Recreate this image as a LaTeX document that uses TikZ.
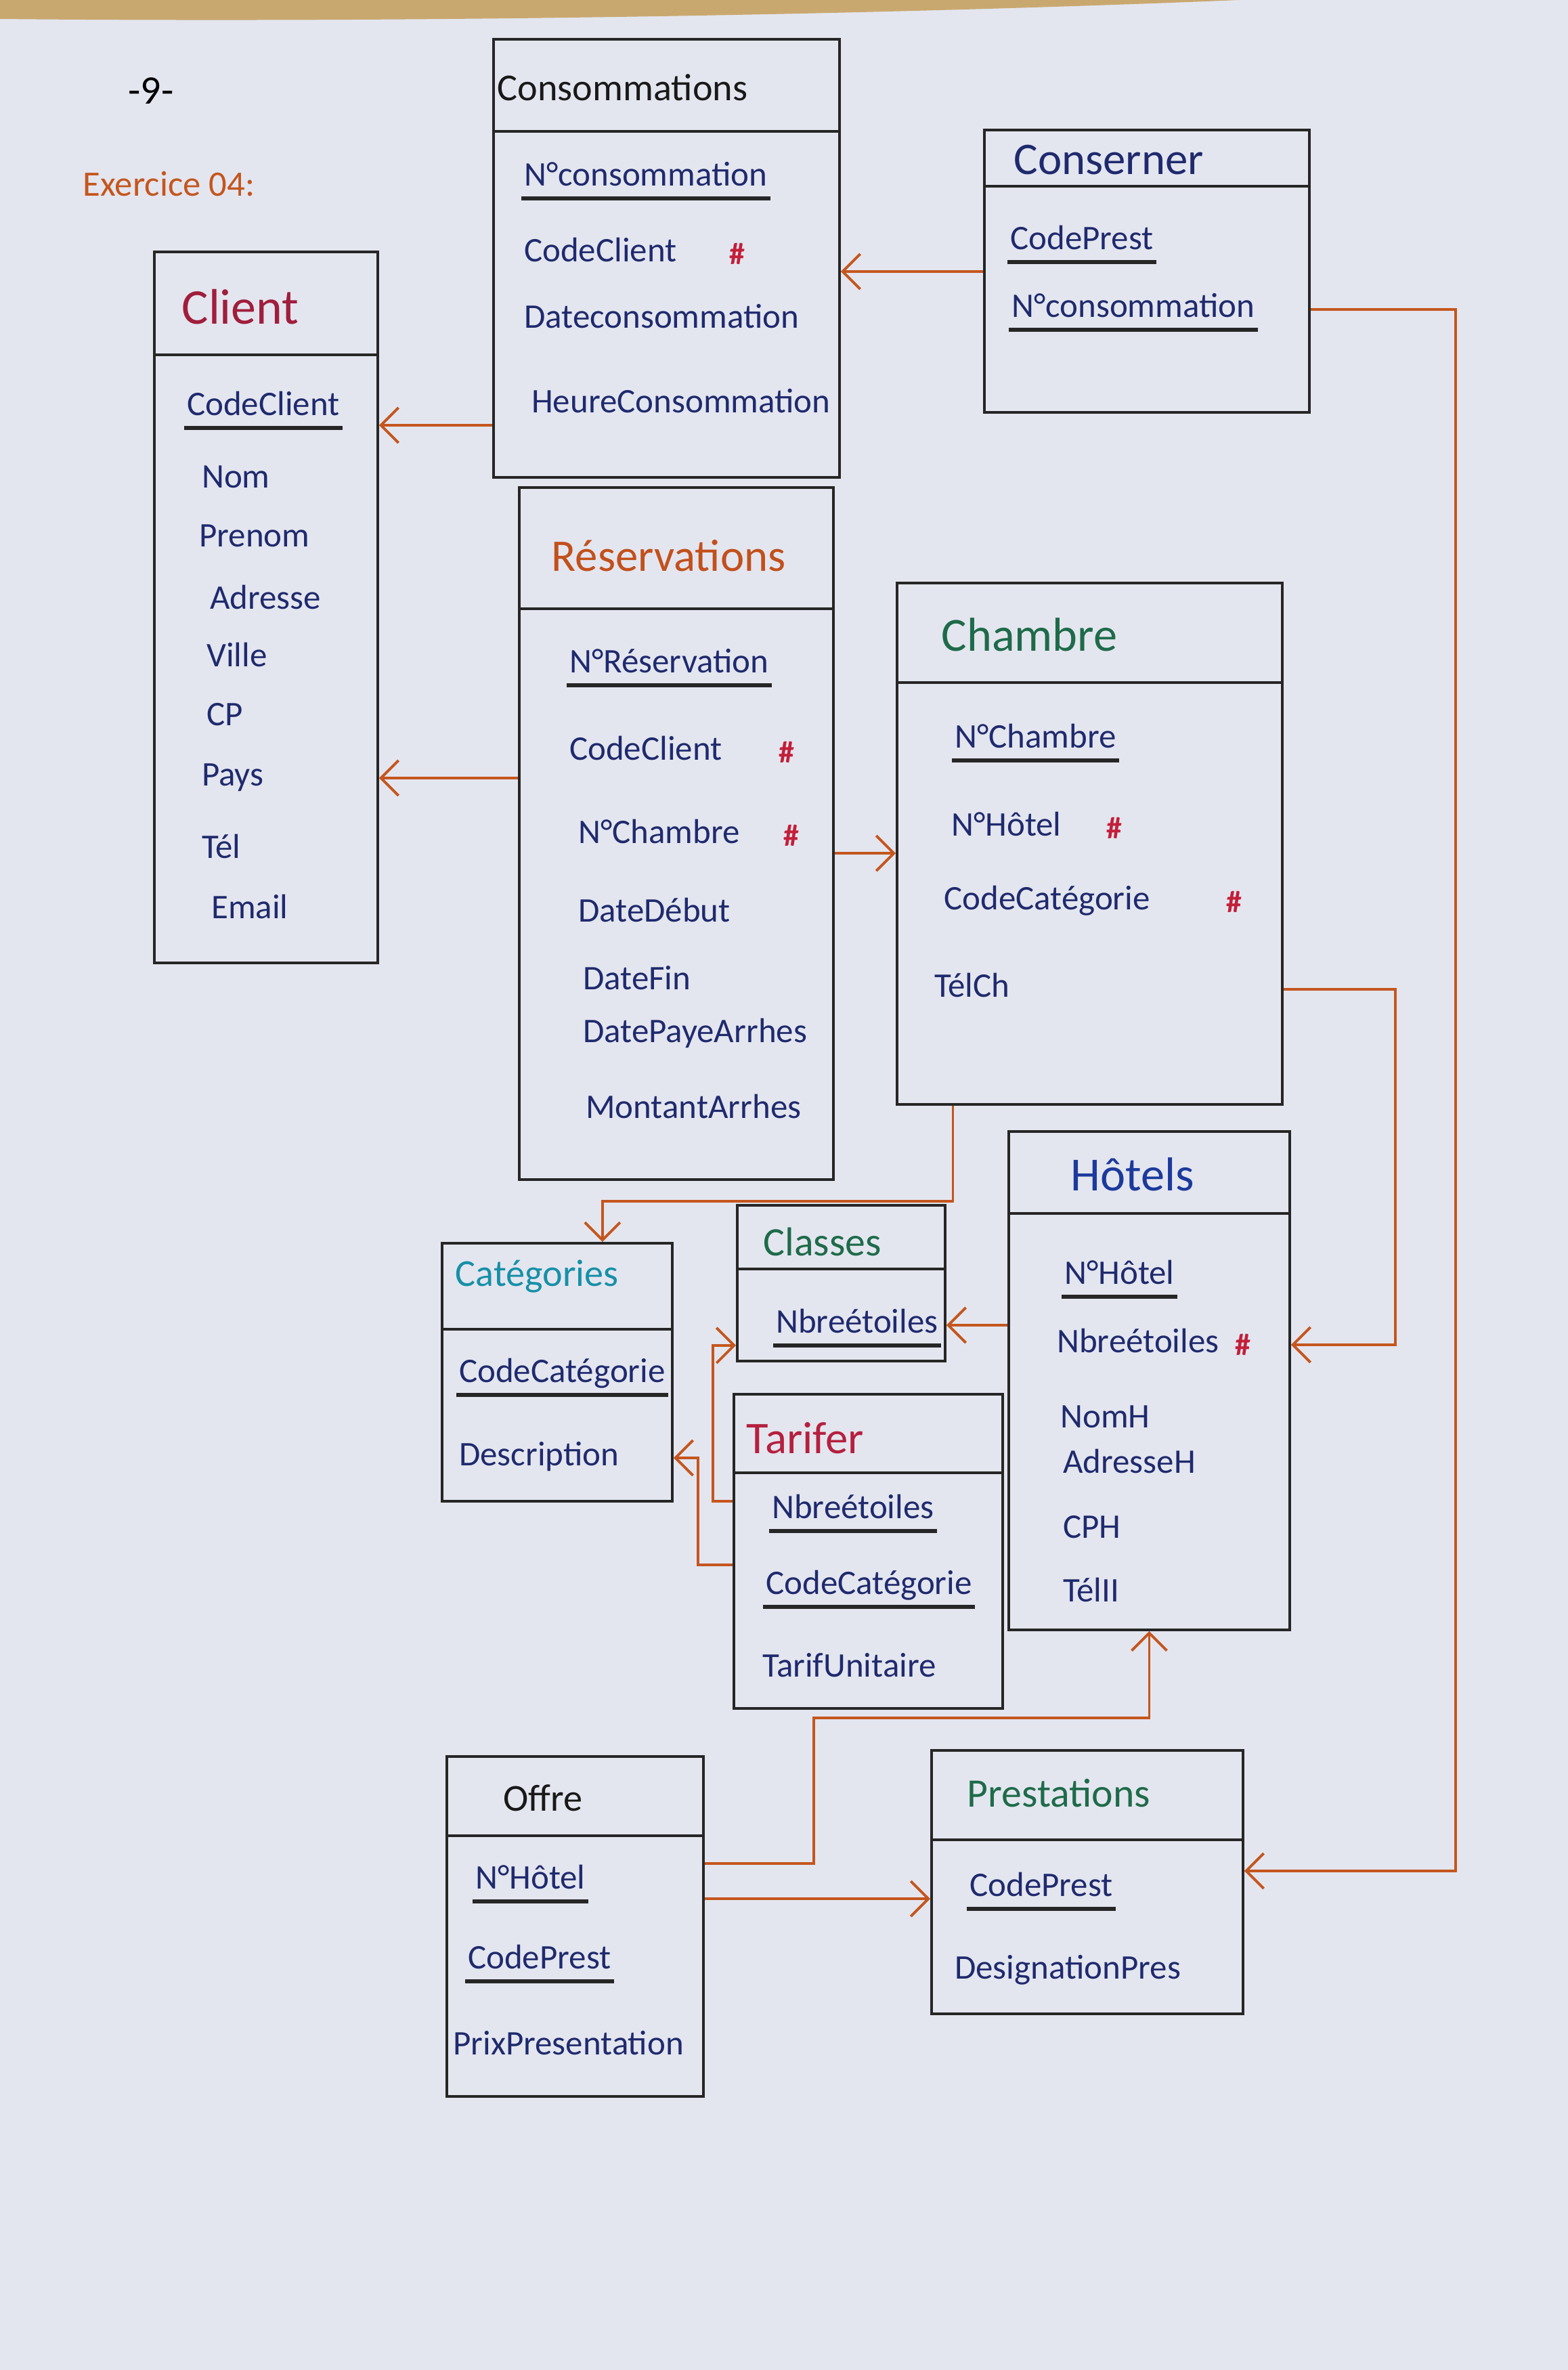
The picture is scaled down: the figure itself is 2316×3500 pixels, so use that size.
\documentclass[tikz,border=0pt]{standalone}
\usepackage{fontspec}
\setmainfont{Carlito}
\usetikzlibrary{arrows.meta, positioning}

\definecolor{paper}{HTML}{E4E6EF}
\definecolor{desk}{HTML}{C9A870}
\definecolor{ink}{HTML}{1F2A6E}
\definecolor{hashred}{HTML}{C21F3A}
\definecolor{link}{HTML}{C4561E}
\definecolor{clientred}{HTML}{A01E3C}
\definecolor{resaorange}{HTML}{C2501C}
\definecolor{roomgreen}{HTML}{1E6B4A}
\definecolor{catteal}{HTML}{1790A8}
\definecolor{hotelblue}{HTML}{1C3A9C}
\definecolor{tarifred}{HTML}{B5203F}

\begin{document}
\begin{tikzpicture}[x=0.1mm, y=-0.1mm,
    tbl/.style={rectangle, draw=black!85, line width=1.1pt, anchor=north west, inner sep=0pt},
    rule/.style={draw=black!85, line width=1.1pt},
    title/.style={anchor=west, inner sep=0pt},
    attr/.style={anchor=west, inner sep=1pt, text=ink, text height=2ex, text depth=0.6ex, font=\fontsize{14.5}{17}\selectfont},
    uline/.style={draw=black!85, line width=1.8pt},
    key/.style={attr, append after command={([yshift=-0.4mm]\tikzlastnode.south west) edge[uline] ([yshift=-0.4mm]\tikzlastnode.south east)}},
    hash/.style={text=hashred, inner sep=0pt, font=\fontsize{13}{15}\selectfont\bfseries},
    fk/.style={->, >={Straight Barb[length=2.6mm, width=5.2mm]}, draw=link, line width=1.1pt}
]

\fill[paper] (0,0) rectangle (2316,3500);
\fill[desk] (0,0) -- (1830,0) .. controls (1300,22) and (600,34) .. (0,28) -- cycle;
\useasboundingbox (0,0) rectangle (2316,3500);

\node[font=\fontsize{17}{20}\selectfont] (page) at (223,134) {-9-};
\node[title, text=link, font=\fontsize{15}{18}\selectfont] (exo) at (122,272) {Exercice 04:};

% Client
\node[tbl, minimum width=33mm, minimum height=105mm] (cl) at (226,370) {};
\draw[rule] ([yshift=-15.4mm]cl.north west) -- ([yshift=-15.4mm]cl.north east);
\node[title, text=clientred, font=\fontsize{21}{24}\selectfont] (clT) at (268,453) {Client};
\node[key] (clCode) at (272,602) {CodeClient};
\node[attr] (clNom) at (294,709) {Nom};
\node[attr] (clPre) at (290,796) {Prenom};
\node[attr] (clAdr) at (306,888) {Adresse};
\node[attr] (clVil) at (301,973) {Ville};
\node[attr] (clCP) at (301,1060) {CP};
\node[attr] (clPay) at (294,1149) {Pays};
\node[attr] (clTel) at (294,1256) {Tél};
\node[attr] (clMail) at (308,1345) {Email};

% Consommations
\node[tbl, minimum width=51.1mm, minimum height=64.7mm] (co) at (727,56) {};
\draw[rule] ([yshift=-13.8mm]co.north west) -- ([yshift=-13.8mm]co.north east);
\node[title, text=black!90, font=\fontsize{16}{19}\selectfont] (coT) at (734,129) {Consommations};
\node[key] (coNum) at (770,263) {N°consommation};
\node[attr] (coCC) at (770,375) {CodeClient};
\node[hash] (coCCk) at (1089,375) {\#};
\node[attr] (coDate) at (770,473) {Dateconsommation};
\node[attr] (coHeure) at (781,598) {HeureConsommation};

% Conserner
\node[tbl, minimum width=48mm, minimum height=41.7mm] (cs) at (1452,190) {};
\draw[rule] ([yshift=-8.5mm]cs.north west) -- ([yshift=-8.5mm]cs.north east);
\node[title, text=ink, font=\fontsize{19}{22}\selectfont] (csT) at (1497,236) {Conserner};
\node[key] (csCode) at (1488,357) {CodePrest};
\node[key] (csNum) at (1490,457) {N°consommation};

% Reservations
\node[tbl, minimum width=46.4mm, minimum height=102.2mm] (re) at (765,718) {};
\draw[rule] ([yshift=-18.1mm]re.north west) -- ([yshift=-18.1mm]re.north east);
\node[title, text=resaorange, font=\fontsize{19}{22}\selectfont] (reT) at (814,821) {Réservations};
\node[key] (reNum) at (837,982) {N°Réservation};
\node[attr] (reCC) at (837,1111) {CodeClient};
\node[hash] (reCCk) at (1162,1111) {\#};
\node[attr] (reCh) at (850,1234) {N°Chambre};
\node[hash] (reChk) at (1169,1234) {\#};
\node[attr] (reDeb) at (850,1350) {DateDébut};
\node[attr] (reFin) at (857,1450) {DateFin};
\node[attr] (rePay) at (857,1528) {DatePayeArrhes};
\node[attr] (reMont) at (861,1640) {MontantArrhes};

% Chambre
\node[tbl, minimum width=56.9mm, minimum height=77mm] (ch) at (1323,859) {};
\draw[rule] ([yshift=-14.9mm]ch.north west) -- ([yshift=-14.9mm]ch.north east);
\node[title, text=roomgreen, font=\fontsize{20}{24}\selectfont] (chT) at (1390,937) {Chambre};
\node[key] (chNum) at (1406,1093) {N°Chambre};
\node[attr] (chHot) at (1401,1223) {N°Hôtel};
\node[hash] (chHotk) at (1646,1223) {\#};
\node[attr] (chCat) at (1390,1332) {CodeCatégorie};
\node[hash] (chCatk) at (1823,1332) {\#};
\node[attr] (chTel) at (1376,1461) {TélCh};

% Categories
\node[tbl, minimum width=34mm, minimum height=38.1mm] (ca) at (651,1834) {};
\draw[rule] ([yshift=-12.9mm]ca.north west) -- ([yshift=-12.9mm]ca.north east);
\node[title, text=catteal, font=\fontsize{16}{19}\selectfont] (caT) at (672,1885) {Catégories};
\node[key] (caCode) at (674,2030) {CodeCatégorie};
\node[attr] (caDesc) at (674,2153) {Description};

% Classes
\node[tbl, minimum width=30.7mm, minimum height=23mm] (cla) at (1087,1778) {};
\draw[rule] ([yshift=-9.6mm]cla.north west) -- ([yshift=-9.6mm]cla.north east);
\node[title, text=roomgreen, font=\fontsize{17}{20}\selectfont] (claT) at (1127,1834) {Classes};
\node[key] (claNb) at (1142,1957) {Nbreétoiles};

% Tarifer
\node[tbl, minimum width=39.7mm, minimum height=46.4mm] (ta) at (1082,2057) {};
\draw[rule] ([yshift=-11.8mm]ta.north west) -- ([yshift=-11.8mm]ta.north east);
\node[title, text=tarifred, font=\fontsize{19}{22}\selectfont] (taT) at (1102,2124) {Tarifer};
\node[key] (taNb) at (1136,2231) {Nbreétoiles};
\node[key] (taCat) at (1127,2343) {CodeCatégorie};
\node[attr] (taTarif) at (1122,2465) {TarifUnitaire};

% Hotels
\node[tbl, minimum width=41.5mm, minimum height=73.6mm] (ho) at (1488,1669) {};
\draw[rule] ([yshift=-12.3mm]ho.north west) -- ([yshift=-12.3mm]ho.north east);
\node[text=hotelblue, inner sep=0pt, font=\fontsize{20}{24}\selectfont] (hoT) at (1673,1734) {Hôtels};
\node[key] (hoNum) at (1568,1885) {N°Hôtel};
\node[attr] (hoNb) at (1557,1986) {Nbreétoiles};
\node[hash] (hoNbk) at (1836,1986) {\#};
\node[attr] (hoNom) at (1562,2097) {NomH};
\node[attr] (hoAdr) at (1566,2164) {AdresseH};
\node[attr] (hoCP) at (1566,2260) {CPH};
\node[attr] (hoTel) at (1566,2354) {TélII};

% Offre
\node[tbl, minimum width=37.9mm, minimum height=50.2mm] (of) at (658,2592) {};
\draw[rule] ([yshift=-11.9mm]of.north west) -- ([yshift=-11.9mm]of.north east);
\node[title, text=black!90, font=\fontsize{16}{19}\selectfont] (ofT) at (743,2655) {Offre};
\node[key] (ofHot) at (698,2778) {N°Hôtel};
\node[key] (ofCP) at (687,2896) {CodePrest};
\node[attr] (ofPrix) at (665,3023) {PrixPresentation};

% Prestations
\node[tbl, minimum width=46mm, minimum height=38.9mm] (pr) at (1374,2583) {};
\draw[rule] ([yshift=-13.4mm]pr.north west) -- ([yshift=-13.4mm]pr.north east);
\node[title, text=roomgreen, font=\fontsize{17}{20}\selectfont] (prT) at (1428,2648) {Prestations};
\node[key] (prCode) at (1428,2789) {CodePrest};
\node[attr] (prDes) at (1406,2911) {DesignationPres};

% links
\draw[fk] (co.west |- clCode.south) -- (cl.east |- clCode.south);
\draw[fk] (cs.west |- coCC.south) -- (co.east |- coCC.south);
\draw[fk] (cs.east |- csNum) -- ++(214,0) |- (pr.east |- prCode.north);
\draw[fk] (re.west |- clPay) -- (cl.east |- clPay);
\draw[fk] (re.east |- reCh.south) -- (ch.west |- reCh.south);
\draw[fk] ([xshift=-20.2mm]ch.south) -- ++(0,141) -| ([xshift=6.7mm]ca.north);
\draw[fk] (ch.east |- chTel) -- ++(165,0) |- (ho.east |- hoNb);
\draw[fk] (ho.west |- claNb) -- (cla.east |- claNb);
\draw[fk] ([yshift=7.4mm]ta.west) -- ++(-29,0) |- ([yshift=-9.2mm]cla.west);
\draw[fk] ([yshift=-2mm]ta.west) -- ++(-51,0) |- (ca.east |- caDesc);
\draw[fk] (of.east |- ofHot.north) -- ++(161,0) -- ++(0,-215) -| (ho.south);
\draw[fk] (of.east |- ofHot.south) -- (pr.west |- ofHot.south);

\end{tikzpicture}
\end{document}
